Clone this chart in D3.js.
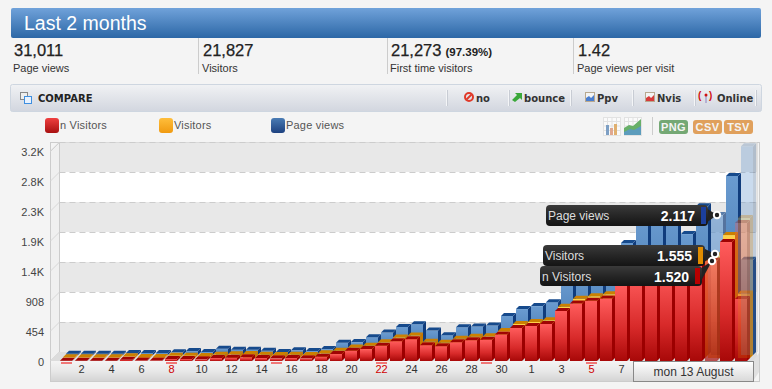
<!DOCTYPE html>
<html>
<head>
<meta charset="utf-8">
<script src="https://cdn.jsdelivr.net/npm/d3@7"></script>
<style>
html, body { margin: 0; padding: 0; background: #f4f4f4; overflow: hidden; }
text { font-family: "Liberation Sans", Arial, sans-serif; }
</style>
</head>
<body>
<div id="chart"></div>
<script>
// Values
const days = [1,2,3,4,5,6,7,8,9,10,11,12,13,14,15,16,17,18,19,20,21,22,23,24,25,26,27,28,29,30,31,
    1,2,3,4,5,6,7,8,9,10,11,12,13,14,15];
const nVisitors = [5,5,5,5,20,8,8,30,30,25,45,50,55,45,40,45,40,65,105,155,180,230,300,330,240,225,285,315,320,400,500,
    530,560,757,870,910,945,1135,1290,1340,1380,1420,1490,1520,1800,940];
const visitors = [10,10,10,10,25,14,14,35,35,30,50,55,60,50,45,50,45,70,110,160,185,238,312,340,245,230,290,322,328,408,515,
    545,572,775,895,935,965,1160,1320,1370,1410,1450,1520,1555,1860,975];
const pageViews = [20,20,20,20,30,30,30,40,60,45,95,80,80,65,45,70,60,90,185,195,270,340,425,465,370,300,420,430,445,590,695,
    740,800,1150,1250,1350,1450,1695,2100,2120,2180,1830,2250,2117,2710,1440];
const yTicks = [0,454,908,1362,1816,2270,2724,3178];
const yTickLabels = ["0","454","908","1.4K","1.9K","2.3K","2.8K","3.2K"];
const xTickIndex = [1,3,5,7,9,11,13,15,17,19,21,23,25,27,29,31,33,35,37]; // 2,4,...30 then 1,3,5,7
const redLabels = [7,21,35];
const sundays = [0,7,14,21,28,35];
const hoverIndex = 43;
const ghostIndex = 45;
const ghostValues = [2090,2120,3160]; // fading bars of the last day
const stats = [
    { value: "31,011", extra: "", label: "Page views" },
    { value: "21,827", extra: "", label: "Visitors" },
    { value: "21,273", extra: "(97.39%)", label: "First time visitors" },
    { value: "1.42", extra: "", label: "Page views per visit" }
];
const compareItems = ["no","bounce","Ppv","Nvis","Online"];
const legendItems = ["n Visitors","Visitors","Page views"];
const tooltipItems = [
    { label: "Page views", value: "2.117" },
    { label: "Visitors", value: "1.555" },
    { label: "n Visitors", value: "1.520" }
];

const svg = d3.select("#chart").append("svg")
    .attr("width", 772)
    .attr("height", 389)
    .style("display", "block");
const defs = svg.append("defs");

function gradient(id, stops) {
    const g = defs.append("linearGradient").attr("id", id)
        .attr("x1", 0).attr("y1", 0).attr("x2", 0).attr("y2", 1);
    stops.forEach(function(s) {
        g.append("stop").attr("offset", s[0]).attr("stop-color", s[1]);
    });
}
gradient("titleGrad", [[0,"#70a2da"],[1,"#2c67a6"]]);
gradient("compareGrad", [[0,"#f1f2f4"],[1,"#d2d6df"]]);
gradient("axisGrad", [[0,"#f4f4f4"],[0.5,"#e8e8e8"],[1,"#d4d4d4"]]);
gradient("boxGrad", [[0,"#ffffff"],[1,"#d8d8d8"]]);
gradient("tipGrad", [[0,"#3a3a3a"],[0.5,"#262626"],[1,"#141414"]]);
gradient("redGrad", [[0,"#ff5c5c"],[0.6,"#d82a2a"],[1,"#a80808"]]);
gradient("orangeGrad", [[0,"#ffd24a"],[1,"#e08a00"]]);
gradient("blueGrad", [[0,"#6a9bd0"],[1,"#3a6ea6"]]);
gradient("legRed", [[0,"#f04040"],[1,"#a81010"]]);
gradient("legOrange", [[0,"#ffbe3c"],[1,"#f09a10"]]);
gradient("legBlue", [[0,"#4a7cb4"],[1,"#1d4180"]]);

// Header
svg.append("rect").attr("x", 11).attr("y", 8).attr("width", 750).attr("height", 30)
    .attr("rx", 2).attr("fill", "url(#titleGrad)");
svg.append("text").attr("x", 24).attr("y", 30).attr("fill", "#fff")
    .style("font-size", "19.5px").text("Last 2 months");

const statX = [14, 203, 391, 578];
stats.forEach(function(d, i) {
    const t = svg.append("text").attr("x", statX[i]).attr("y", 56).attr("fill", "#222")
        .style("font-size", "16.5px").style("stroke", "#222").style("stroke-width", "0.25px").text(d.value);
    if (d.extra) {
        t.append("tspan").attr("dx", 4).style("font-size", "11.5px").style("font-weight", "bold").style("stroke-width", "0").text(d.extra);
    }
    svg.append("text").attr("x", statX[i] - 1).attr("y", 72).attr("fill", "#333")
        .style("font-size", "11px").text(d.label);
});
[198, 387, 573].forEach(function(x) {
    svg.append("line").attr("x1", x + 0.5).attr("x2", x + 0.5).attr("y1", 38).attr("y2", 74).attr("stroke", "#ccc");
});

// Compare bar
svg.append("rect").attr("x", 10.5).attr("y", 84.5).attr("width", 751).attr("height", 27)
    .attr("rx", 2).attr("fill", "url(#compareGrad)").attr("stroke", "#ced6e0");
svg.append("rect").attr("x", 20.5).attr("y", 92.5).attr("width", 7).attr("height", 7).attr("fill", "#eee").attr("stroke", "#888");
svg.append("rect").attr("x", 24.5).attr("y", 96.5).attr("width", 7).attr("height", 7).attr("fill", "#e8f2ff").attr("stroke", "#3f8fe0");
svg.append("text").attr("x", 38).attr("y", 102).attr("fill", "#222")
    .style("font-family", "DejaVu Sans").style("font-size", "10px").style("font-weight", "bold").text("COMPARE");
[446, 508, 570, 632, 694, 755].forEach(function(x) {
    svg.append("line").attr("x1", x + 0.5).attr("x2", x + 0.5).attr("y1", 90).attr("y2", 106).attr("stroke", "#f4f5f7");
    svg.append("line").attr("x1", x + 1.5).attr("x2", x + 1.5).attr("y1", 90).attr("y2", 106).attr("stroke", "#c8ccd4");
});
const compareX = [476, 524, 597, 657, 717];
compareItems.forEach(function(d, i) {
    svg.append("text").attr("x", compareX[i]).attr("y", 102).attr("fill", "#333")
        .style("font-family", "DejaVu Sans").style("font-size", "10px").style("font-weight", "bold").text(d);
});
// small icons of the compare bar
svg.append("circle").attr("cx", 469).attr("cy", 97).attr("r", 4).attr("fill", "none").attr("stroke", "#e03a2a").attr("stroke-width", 2);
svg.append("line").attr("x1", 466.5).attr("y1", 99.5).attr("x2", 471.5).attr("y2", 94.5).attr("stroke", "#e03a2a").attr("stroke-width", 2);
svg.append("path").attr("d", "M512 100l5-5-2-2h7v7l-2-2-5 4z").attr("fill", "#3aa83a");
[[585.5, "#4a7ed0"], [645.5, "#d83a3a"]].forEach(function(c) {
    svg.append("rect").attr("x", c[0]).attr("y", 92.5).attr("width", 9).attr("height", 9).attr("fill", "#f4f4f4").attr("stroke", "#b8a890");
    svg.append("path").attr("d", "M" + (c[0] + 0.5) + " 101v-3l3-2 2 2 3-3v6z").attr("fill", c[1]);
});
svg.append("text").attr("x", 698).attr("y", 99).attr("fill", "#d01010").style("font-size", "10px").style("font-weight", "bold").text("(");
svg.append("text").attr("x", 709).attr("y", 99).attr("fill", "#d01010").style("font-size", "10px").style("font-weight", "bold").text(")");
svg.append("line").attr("x1", 706).attr("x2", 706).attr("y1", 96).attr("y2", 103).attr("stroke", "#8a80c0");
svg.append("circle").attr("cx", 706).attr("cy", 95).attr("r", 1.5).attr("fill", "#d01010");

// Legend
const legendX = [45, 159, 271];
const legendFill = ["url(#legRed)", "url(#legOrange)", "url(#legBlue)"];
legendItems.forEach(function(d, i) {
    svg.append("rect").attr("x", legendX[i]).attr("y", 118).attr("width", 14).attr("height", 15)
        .attr("rx", 3).attr("fill", legendFill[i]);
    svg.append("text").attr("x", legendX[i] + 15).attr("y", 129).attr("fill", "#555")
        .style("font-size", "11px").style("letter-spacing", "0.2px").text(d);
});

// Little chart type icons and export buttons
[603, 624].forEach(function(ix) {
    svg.append("rect").attr("x", ix + 0.5).attr("y", 117.5).attr("width", 17).attr("height", 18).attr("fill", "#fafafa").attr("stroke", "#e2e2e2");
    d3.range(1, 4).forEach(function(k) {
        svg.append("line").attr("x1", ix + k * 4.5).attr("x2", ix + k * 4.5).attr("y1", 117).attr("y2", 135).attr("stroke", "#e2e2e2");
        svg.append("line").attr("x1", ix).attr("x2", ix + 17).attr("y1", 117 + k * 4.5).attr("y2", 117 + k * 4.5).attr("stroke", "#e2e2e2");
    });
});
[[606,"#7d9fc4",10],[610,"#e0a890",7],[614,"#e0b070",11]].forEach(function(b) {
    svg.append("rect").attr("x", b[0]).attr("y", 135 - b[2]).attr("width", 3).attr("height", b[2]).attr("fill", b[1]);
});
svg.append("path").attr("d", "M624 128l5-3 4 1 8-7v16h-17z").attr("fill", "#68b068");
svg.append("path").attr("d", "M624 132l6-3 4 1 7-4v9h-17z").attr("fill", "#5c9cbc");
svg.append("line").attr("x1", 652.5).attr("x2", 652.5).attr("y1", 117).attr("y2", 135).attr("stroke", "#ccc");
[["PNG", 659, 29, "#74a874"], ["CSV", 693, 29, "#e0a05c"], ["TSV", 724, 29, "#e0a05c"]].forEach(function(b) {
    svg.append("rect").attr("x", b[1]).attr("y", 120).attr("width", b[2]).attr("height", 14).attr("rx", 3).attr("fill", b[3]);
    svg.append("text").attr("x", b[1] + b[2] / 2).attr("y", 131).attr("text-anchor", "middle").attr("fill", "#f4f4f4")
        .style("font-size", "11px").style("font-weight", "bold").style("letter-spacing", "0.4px").text(b[0]);
});

// Scales
const yBase = 361;
const x = d3.scaleLinear().domain([0, 45]).range([66, 741]);
const y = d3.scaleLinear().domain([0, 3178]).range([yBase, yBase - 210]);
const wallDx = 9, wallDy = -9;

// Walls
const plot = svg.append("g");
plot.append("rect").attr("x", 50.5).attr("y", 142.5).attr("width", 709).attr("height", 239).attr("fill", "#f4f4f4").attr("stroke", "#ccc");
plot.append("path").attr("d", "M50.5 151.5L59.5 142.5V352L50.5 361Z").attr("fill", "#f0f0f0").attr("stroke", "#ccc");
const wallLeft = 50.5 + wallDx, wallRight = 757;
const bands = d3.pairs(yTicks.concat([3632]));
plot.selectAll(".band").data(bands).enter().append("rect")
    .attr("class", "band")
    .attr("x", wallLeft)
    .attr("width", wallRight - wallLeft)
    .attr("y", function(d) { return Math.max(142.5, y(d[1]) + wallDy); })
    .attr("height", function(d) { return y(d[0]) + wallDy - Math.max(142.5, y(d[1]) + wallDy); })
    .attr("fill", function(d, i) { return i % 2 === 0 ? "#e8e8e8" : "#ffffff"; });
plot.selectAll(".grid").data(yTicks.slice(1)).enter().append("line")
    .attr("class", "grid")
    .attr("x1", wallLeft).attr("x2", wallRight)
    .attr("y1", function(d) { return y(d) + wallDy + 0.5; })
    .attr("y2", function(d) { return y(d) + wallDy + 0.5; })
    .attr("stroke", "#ccc").attr("stroke-dasharray", "6,4");
plot.selectAll(".diag").data(yTicks).enter().append("line")
    .attr("class", "diag")
    .attr("x1", 50.5).attr("x2", wallLeft)
    .attr("y1", function(d) { return y(d); })
    .attr("y2", function(d) { return y(d) + wallDy; })
    .attr("stroke", "#d8d8d8");
plot.append("line").attr("x1", wallLeft).attr("x2", wallLeft).attr("y1", 142.5).attr("y2", 352).attr("stroke", "#ccc");
plot.append("line").attr("x1", wallRight).attr("x2", wallRight).attr("y1", 142.5).attr("y2", 352).attr("stroke", "#ccc");
// floor
plot.append("path").attr("d", "M50.5 361L59.5 352H757V362L753 361Z").attr("fill", "#dcdcdc");
plot.append("rect").attr("x", 51).attr("y", 361).attr("width", 702).attr("height", 20).attr("fill", "url(#axisGrad)");
plot.append("path").attr("d", "M753 361L759 353V372L753 381Z").attr("fill", "#e0e0e0");

// Sunday markers on the axis strip
plot.selectAll(".sunday").data(sundays).enter().append("rect")
    .attr("class", "sunday")
    .attr("x", function(d) { return x(d) - 5; })
    .attr("y", 362).attr("width", 11).attr("height", 2)
    .attr("fill", "#f07878");

// One 3D bar: front face, right side, top face
function drawBar(g, i, value, offset, colors, opacity) {
    const left = x(i) - 6 + offset, right = x(i) + 6 + offset;
    const bottom = y(0) - offset, top = y(value) - offset;
    const bar = g.append("g").attr("opacity", opacity);
    bar.append("rect").attr("x", left).attr("y", top).attr("width", right - left)
        .attr("height", Math.max(0, bottom - top)).attr("fill", colors.front);
    bar.append("path")
        .attr("d", d3.line()([[right, top], [right + 3, top - 3], [right + 3, bottom - 3], [right, bottom]]) + "Z")
        .attr("fill", colors.side);
    bar.append("path")
        .attr("d", d3.line()([[left, top], [left + 3, top - 3], [right + 3, top - 3], [right, top]]) + "Z")
        .attr("fill", colors.top);
}
const blueColors = { front: "url(#blueGrad)", side: "#103c7c", top: "#164a8c" };
const orangeColors = { front: "url(#orangeGrad)", side: "#c87800", top: "#cc8000" };
const redColors = { front: "url(#redGrad)", side: "#9c0000", top: "#a00404" };
const ghostBlue = { front: "#6a9bd0", side: "#4c6e96", top: "#6a8cb4" };
const layers = [
    { values: pageViews, offset: 6, colors: blueColors },
    { values: visitors, offset: 3, colors: orangeColors },
    { values: nVisitors, offset: 0, colors: redColors }
];
const barsG = svg.append("g");
layers.forEach(function(layer) {
    layer.values.forEach(function(v, i) {
        drawBar(barsG, i, v, layer.offset, layer.colors, i === hoverIndex ? 0.68 : 1);
    });
});
drawBar(barsG, ghostIndex, ghostValues[2], 6, ghostBlue, 0.35);
drawBar(barsG, ghostIndex, ghostValues[1], 3, orangeColors, 0.3);
drawBar(barsG, ghostIndex, ghostValues[0], 0, redColors, 0.3);

// Axes
const xAxis = d3.axisBottom(x)
    .tickValues(xTickIndex)
    .tickSize(0)
    .tickPadding(4)
    .tickFormat(function(d) { return days[d]; });
const xG = svg.append("g").attr("transform", "translate(0,361)").call(xAxis);
xG.select(".domain").remove();
xG.selectAll("text").style("font-size", "11px")
    .attr("fill", function(d) { return redLabels.indexOf(d) >= 0 ? "#d00000" : "#333"; });

const yAxis = d3.axisLeft(y)
    .tickValues(yTicks)
    .tickSize(0)
    .tickPadding(6)
    .tickFormat(function(d, i) { return yTickLabels[i]; });
const yG = svg.append("g").attr("transform", "translate(50,1)").call(yAxis);
yG.select(".domain").remove();
yG.selectAll("text").style("font-size", "11px").attr("fill", "#444");

// Selected date box
svg.append("rect").attr("x", 633.5).attr("y", 361.5).attr("width", 120).attr("height", 20)
    .attr("fill", "url(#boxGrad)").attr("stroke", "#888");
svg.append("text").attr("x", 693.5).attr("y", 376).attr("text-anchor", "middle").attr("fill", "#333")
    .style("font-size", "12px").text("mon 13 August");

// Tooltips
const tips = [
    { x: 546, y: 205, w: 162, h: 21, swatch: "#1c3f9c", cx: 717, cy: 215 },
    { x: 543, y: 245, w: 162, h: 21, swatch: "#e08c00", cx: 715, cy: 254 },
    { x: 540, y: 266, w: 162, h: 20, swatch: "#b80000", cx: 712, cy: 261 }
];
const tipG = svg.append("g");
tips.forEach(function(t, i) {
    const item = tooltipItems[i];
    tipG.append("path")
        .attr("d", d3.line()([[t.x + t.w - 2, t.y + 3], [t.cx, t.cy], [t.x + t.w - 2, t.y + t.h - 3]]) + "Z")
        .attr("fill", "#222");
    tipG.append("rect").attr("x", t.x).attr("y", t.y).attr("width", t.w).attr("height", t.h)
        .attr("rx", 4).attr("fill", "url(#tipGrad)");
    tipG.append("text").attr("x", t.x + 2).attr("y", t.y + 15).attr("fill", "#ddd")
        .style("font-size", "12px").text(item.label);
    tipG.append("text").attr("x", t.x + t.w - 13).attr("y", t.y + 16).attr("text-anchor", "end").attr("fill", "#fff")
        .style("font-size", "14px").style("font-weight", "bold").text(item.value);
    tipG.append("rect").attr("x", t.x + t.w - 7).attr("y", t.y + 2).attr("width", 5).attr("height", t.h - 4)
        .attr("fill", t.swatch);
    tipG.append("circle").attr("cx", t.cx).attr("cy", t.cy).attr("r", 3.2)
        .attr("fill", "#222").attr("stroke", "#fff").attr("stroke-width", 2);
});
</script>
</body>
</html>
